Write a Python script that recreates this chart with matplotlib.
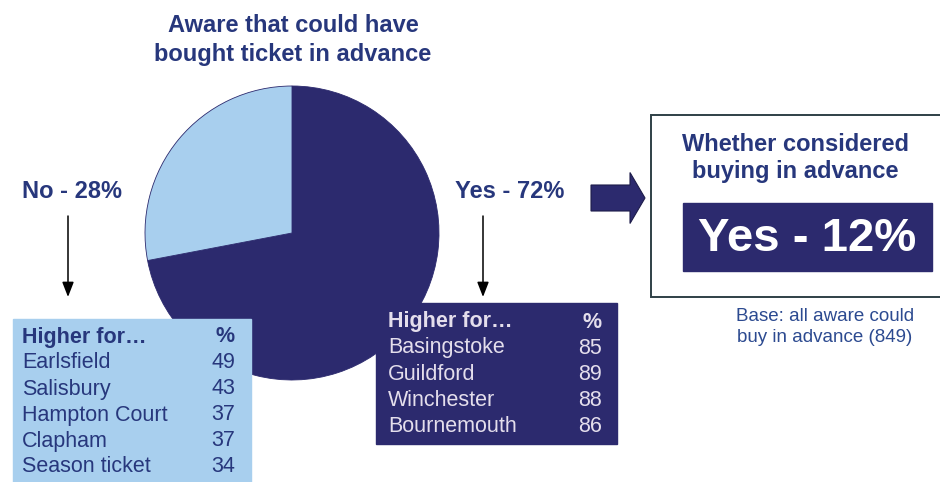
import matplotlib.pyplot as plt
from matplotlib.patches import Rectangle, FancyArrow

plt.rcParams['font.family'] = ['Liberation Sans', 'DejaVu Sans']

# Pie: aware that could have bought in advance
aware_labels = ['Yes', 'No']
aware_pct = [72, 28]

# Follow-up question among those aware
considered_label = 'Yes'
considered_pct = 12
base_n = 849

# "Higher for..." breakdowns under each slice
no_groups = ['Earlsfield', 'Salisbury', 'Hampton Court', 'Clapham', 'Season ticket']
no_values = [49, 43, 37, 37, 34]
yes_groups = ['Basingstoke', 'Guildford', 'Winchester', 'Bournemouth']
yes_values = [85, 89, 88, 86]

NAVY = '#2c2a6e'
LIGHT = '#a8cfee'
TEXT = '#27377c'
PALE = '#e4deec'

W, H = 940, 482
fig = plt.figure(figsize=(W / 100, H / 100), dpi=100)
ax = fig.add_axes([0, 0, 1, 1])

# pixel-style coordinates, y grows downward
ax.pie(aware_pct, colors=[NAVY, LIGHT], center=(292, 233), radius=147,
       startangle=-90, counterclock=True,
       wedgeprops=dict(linewidth=0.6, edgecolor=NAVY))
ax.set_xlim(0, W)
ax.set_ylim(H, 0)
ax.set_aspect('auto')
ax.axis('off')

bold = dict(fontsize=17, fontweight='bold', color=TEXT)

# title over the pie
ax.text(293, 40, 'Aware that could have\nbought ticket in advance',
        ha='center', va='center', linespacing=1.3, **bold)

# slice labels with down arrows
ax.text(22, 192, f'{aware_labels[1]} - {aware_pct[1]}%', ha='left', va='center', **bold)
ax.text(455, 192, f'{aware_labels[0]} - {aware_pct[0]}%', ha='left', va='center', **bold)
for x in (68, 483):
    ax.annotate('', xy=(x, 297), xytext=(x, 216),
                arrowprops=dict(arrowstyle='-|>,head_width=0.35,head_length=0.9',
                                color='black', lw=1.1, shrinkA=0, shrinkB=0))

# block arrow towards the follow-up box
ax.add_patch(FancyArrow(591, 198, 39, 0, width=26, head_width=51, head_length=15,
                        length_includes_head=False, facecolor=NAVY,
                        edgecolor='#1d1c4a', linewidth=0.8))

# follow-up box
ax.add_patch(Rectangle((651, 115), 300, 182, facecolor='white',
                       edgecolor='#2f4046', linewidth=1.4))
ax.text(795, 158, 'Whether considered\nbuying in advance',
        ha='center', va='center', linespacing=1.18, **bold)
ax.add_patch(Rectangle((683, 203), 249, 68, facecolor=NAVY, edgecolor=NAVY))
ax.text(807, 239, f'{considered_label} - {considered_pct}%', ha='center', va='center',
        fontsize=34, fontweight='bold', color='white')
ax.text(825, 327, f'Base: all aware could\nbuy in advance ({base_n})',
        ha='center', va='center', fontsize=13.5, color='#2c4a90', linespacing=1.35)


def draw_table(x0, y0, x1, y1, groups, values, face, fg, row0, left, right):
    ax.add_patch(Rectangle((x0, y0), x1 - x0, y1 - y0, facecolor=face,
                           edgecolor=face, zorder=3))
    ax.text(left, row0, 'Higher for\u2026', ha='left', va='center',
            fontsize=15.5, fontweight='bold', color=fg, zorder=4)
    ax.text(right, row0, '%', ha='right', va='center',
            fontsize=15.5, fontweight='bold', color=fg, zorder=4)
    for i, (g, v) in enumerate(zip(groups, values)):
        y = row0 + 26 * (i + 1)
        ax.text(left, y, g, ha='left', va='center', fontsize=15.5, color=fg, zorder=4)
        ax.text(right, y, str(v), ha='right', va='center', fontsize=15.5, color=fg, zorder=4)


draw_table(13, 319, 251, 490, no_groups, no_values, LIGHT, TEXT, 337, 22, 235)
draw_table(376, 303, 617, 444, yes_groups, yes_values, NAVY, PALE, 322, 388, 602)

fig.savefig('out.png', dpi=100, facecolor='white')
